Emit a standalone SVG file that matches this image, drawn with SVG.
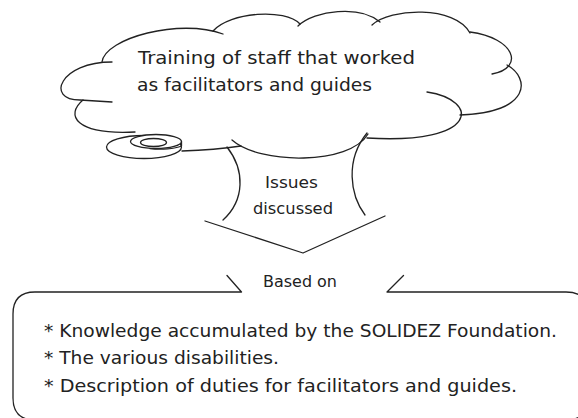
<svg xmlns="http://www.w3.org/2000/svg" width="578" height="418" viewBox="0 0 578 418">
  <style>
    .ln { fill: none; stroke: #222; stroke-width: 1.3; stroke-linecap: round; stroke-linejoin: round; }
    .fw { fill: #fff; stroke: #222; stroke-width: 1.3; }
    .t { font-family: "DejaVu Sans", "Liberation Sans", sans-serif; fill: #222; }
    .big { font-size: 18px; }
    .small { font-size: 16.5px; }
  </style>
  <rect width="578" height="418" fill="#fff"/>

  <g id="cloud">
    <path class="ln" d="M102,62 C105,38 180,18 223,34"/>
    <path class="ln" d="M213,31 C230,12 285,8 300,24"/>
    <path class="ln" d="M298,26 C315,10 360,5 380,22"/>
    <path class="ln" d="M372,25 C390,8 455,5 470,33"/>
    <path class="ln" d="M470,32 C515,38 525,68 492,74"/>
    <path class="ln" d="M507,65 C530,78 532,112 460,115"/>
    <path class="ln" d="M427,92 C480,100 480,145 367,138"/>
    <path class="ln" d="M368,134 C350,165 260,165 232,140"/>
    <path class="ln" d="M112,62 C60,62 45,100 80,100 L112,102"/>
    <path class="ln" d="M83,100 C65,115 75,135 135,132"/>
    <path class="ln" d="M182,151 Q215,150 241,146"/>
    <g id="disk">
      <ellipse class="fw" cx="144" cy="147" rx="37.5" ry="11.5"/>
      <ellipse class="fw" cx="156" cy="141.5" rx="25.5" ry="7"/>
      <path class="ln" d="M181.5,141.5 V146 A25.5,7 0 0 1 150,148.6"/>
      <ellipse class="ln" cx="153.5" cy="142.5" rx="13" ry="4"/>
    </g>
    <text class="t big" x="138" y="64" textLength="277" lengthAdjust="spacingAndGlyphs">Training of staff that worked</text>
    <text class="t big" x="137" y="91" textLength="235" lengthAdjust="spacingAndGlyphs">as facilitators and guides</text>
  </g>

  <g id="issues">
    <path class="ln" d="M227,147 C245,170 245,200 223,220"/>
    <path class="ln" d="M367,133 C345,160 350,195 365,215"/>
    <text class="t small" x="291.5" y="188" text-anchor="middle" textLength="53" lengthAdjust="spacingAndGlyphs">Issues</text>
    <text class="t small" x="293" y="214" text-anchor="middle" textLength="80" lengthAdjust="spacingAndGlyphs">discussed</text>
  </g>

  <g id="connectors">
    <polyline class="ln" points="205,221 303,253 385,216"/>
  </g>

  <g id="based-on">
    <path class="ln" d="M227,275.5 L241.5,292 H35 Q13,292 13,314 V398 Q13,420 35,420 H566 Q588,420 588,398 V314 Q588,292 566,292 H387 L403.5,275.5"/>
    <text class="t small" x="300" y="287" text-anchor="middle" textLength="74" lengthAdjust="spacingAndGlyphs">Based on</text>
    <text class="t big" x="44" y="336.5" textLength="513" lengthAdjust="spacingAndGlyphs">* Knowledge accumulated by the SOLIDEZ Foundation.</text>
    <text class="t big" x="44" y="364" textLength="235" lengthAdjust="spacingAndGlyphs">* The various disabilities.</text>
    <text class="t big" x="44" y="391.5" textLength="473" lengthAdjust="spacingAndGlyphs">* Description of duties for facilitators and guides.</text>
  </g>
</svg>
